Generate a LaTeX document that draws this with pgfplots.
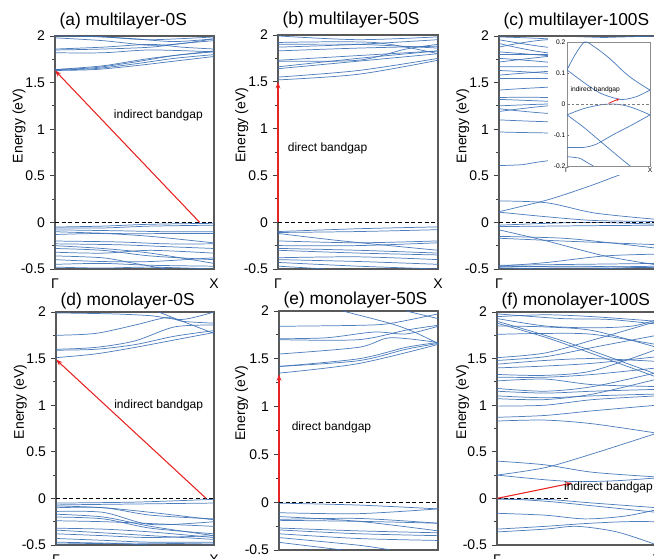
\documentclass[border=0pt]{standalone}
\usepackage{pgfplots}
\pgfplotsset{compat=1.18}
\usepackage{fontspec}
\setmainfont{Liberation Sans}
\usetikzlibrary{arrows.meta}
\definecolor{bandc}{RGB}{60,112,182}
\definecolor{arr}{RGB}{232,35,35}
\newcommand{\B}[1]{\addplot[band] coordinates {#1};}
\tikzset{lbl/.style={font=\fontsize{9}{10}\selectfont}}
\pgfplotsset{
  band/.style={no marks, smooth, line width=0.55pt, color=bandc, opacity=0.9},
  fermi/.style={no marks, black, dashed, dash pattern=on 3pt off 2pt, line width=0.7pt},
  redarrow/.style={no marks, arr, line width=0.8pt, -{Stealth[length=5pt,width=3.5pt]}, clip=false},
  panel/.style={scale only axis, anchor=south west,
    xmin=0, xmax=1, ymin=-0.5, ymax=2,
    xtick={0,1}, xticklabels={Γ,X},
    ytick={-0.5,0,0.5,1,1.5,2}, minor ytick={-0.25,0.25,0.75,1.25,1.75},
    ytick pos=left, xtick pos=bottom,
    tick align=outside, major tick length=4pt, minor tick length=2.3pt,
    x tick style={draw=none},
    tick style={black!75, line width=0.6pt},
    axis line style={black!65, line width=0.8pt},
    ticklabel style={font=\fontsize{10.5}{12}\selectfont},
    /pgf/number format/assume math mode=true,
    ylabel={Energy (eV)},
    ylabel style={font=\fontsize{10.5}{12}\selectfont, at={(axis description cs:-0.226,0.615)}, anchor=center},
    title style={at={(axis description cs:0,1)}, anchor=base west, yshift=1.5pt, font=\fontsize{13}{15}\selectfont},
    clip mode=individual,
  },
}
\begin{document}
\begin{tikzpicture}
\useasboundingbox (0,0) rectangle (490.5pt,419.25pt);
\clip (0,0) rectangle (490.5pt,419.25pt);

% ---------------- (a) ----------------
\begin{axis}[panel, at={(41.25pt,217.5pt)}, width=119.25pt, height=174.75pt, title={(a) multilayer-0S}]
\B{(0,1.63)(0.25,1.64)(0.5,1.68)(0.75,1.73)(1,1.78)}
\B{(0,1.635)(0.25,1.65)(0.5,1.70)(0.75,1.76)(1,1.80)}
\B{(0,1.64)(0.25,1.66)(0.5,1.72)(0.75,1.79)(1,1.83)}
\B{(0,1.64)(0.3,1.68)(0.6,1.76)(1,1.84)}
\B{(0,1.82)(0.3,1.82)(0.6,1.85)(1,1.83)}
\B{(0,1.85)(0.3,1.86)(0.6,1.88)(0.8,1.92)(1,1.95)}
\B{(0,1.86)(0.3,1.88)(0.6,1.91)(0.8,1.88)(1,1.86)}
\B{(0,1.98)(0.3,1.95)(0.6,1.90)(0.8,1.92)(1,1.97)}
\B{(0,2.0)(0.3,1.99)(0.6,1.96)(1,1.99)}
\B{(0.2,2.0)(0.5,1.97)(0.75,1.94)(1,1.97)}
\B{(0,-0.05)(0.3,-0.04)(0.6,-0.02)(1,-0.01)}
\B{(0,-0.06)(0.3,-0.06)(0.6,-0.04)(1,-0.03)}
\B{(0,-0.08)(0.4,-0.09)(0.7,-0.1)(1,-0.1)}
\B{(0,-0.1)(0.4,-0.12)(0.7,-0.12)(1,-0.12)}
\B{(0,-0.13)(0.3,-0.12)(0.6,-0.15)(1,-0.22)}
\B{(0,-0.2)(0.4,-0.21)(0.7,-0.23)(1,-0.23)}
\B{(0,-0.23)(0.4,-0.24)(0.7,-0.26)(1,-0.28)}
\B{(0,-0.25)(0.3,-0.28)(0.6,-0.33)(1,-0.44)}
\B{(0,-0.28)(0.3,-0.3)(0.6,-0.36)(1,-0.40)}
\B{(0,-0.32)(0.3,-0.33)(0.6,-0.3)(1,-0.33)}
\B{(0,-0.36)(0.3,-0.38)(0.5,-0.44)(0.7,-0.5)}
\B{(0,-0.4)(0.3,-0.42)(0.6,-0.42)(1,-0.38)}
\B{(0,-0.45)(0.3,-0.44)(0.6,-0.46)(1,-0.47)}
\B{(0,-0.48)(0.3,-0.49)(0.6,-0.48)(1,-0.5)}
\addplot[fermi] coordinates {(0,0)(1,0)};
\addplot[redarrow] coordinates {(0.91,0)(0,1.63)};
\node[lbl] at (axis cs:0.65,1.15) {indirect bandgap};
\end{axis}

% ---------------- (b) ----------------
\begin{axis}[panel, at={(208.5pt,217.5pt)}, width=120pt, height=175.5pt, title={(b) multilayer-50S}]
\B{(0,1.52)(0.5,1.58)(1,1.73)}
\B{(0,1.55)(0.5,1.62)(1,1.75)}
\B{(0,1.64)(0.5,1.72)(1,1.80)}
\B{(0,1.66)(0.5,1.75)(1,1.83)}
\B{(0,1.72)(0.5,1.73)(0.8,1.85)(1,1.90)}
\B{(0,1.73)(0.6,1.79)(1,1.83)}
\B{(0,1.83)(0.5,1.86)(1,1.88)}
\B{(0,1.87)(0.5,1.90)(1,1.95)}
\B{(0,1.90)(0.5,1.90)(1,1.86)}
\B{(0,1.92)(0.6,1.92)(1,1.80)}
\B{(0,1.99)(0.5,1.95)(1,1.98)}
\B{(0,-0.10)(0.5,-0.07)(1,-0.05)}
\B{(0,-0.11)(0.5,-0.10)(1,-0.08)}
\B{(0,-0.12)(0.4,-0.20)(1,-0.30)}
\B{(0,-0.20)(0.5,-0.22)(1,-0.20)}
\B{(0,-0.25)(0.5,-0.25)(1,-0.22)}
\B{(0,-0.28)(0.5,-0.30)(1,-0.33)}
\B{(0,-0.30)(0.5,-0.33)(1,-0.35)}
\B{(0,-0.38)(0.5,-0.37)(1,-0.40)}
\B{(0,-0.40)(0.5,-0.42)(1,-0.45)}
\B{(0,-0.43)(0.5,-0.47)(1,-0.50)}
\B{(0,-0.47)(0.3,-0.5)}
\addplot[fermi] coordinates {(0,0)(1,0)};
\addplot[redarrow] coordinates {(0,0)(0,1.5)};
\node[lbl] at (axis cs:0.31,0.79) {direct bandgap};
\end{axis}

% ---------------- (c) ----------------
\begin{axis}[panel, at={(374.25pt,217.5pt)}, width=120pt, height=174.75pt, title={(c) multilayer-100S}]
\B{(0,1.99)(0.3,1.97)(1,1.90)}
\B{(0,1.96)(0.3,1.88)(1,1.75)}
\B{(0,1.92)(0.3,1.82)(1,1.70)}
\B{(0,1.88)(0.3,1.96)(1,2.0)}
\B{(0,1.83)(0.3,1.79)(1,1.70)}
\B{(0,1.80)(0.3,1.80)(1,1.80)}
\B{(0,1.76)(0.3,1.72)(1,1.60)}
\B{(0,1.72)(0.3,1.78)(1,1.90)}
\B{(0,1.67)(0.3,1.67)(1,1.65)}
\B{(0,1.63)(0.3,1.60)(1,1.50)}
\B{(0,1.58)(0.3,1.62)(1,1.70)}
\B{(0,1.55)(0.3,1.55)(1,1.55)}
\B{(0,1.42)(0.3,1.45)(1,1.50)}
\B{(0,1.34)(0.3,1.34)(1,1.30)}
\B{(0,1.32)(0.3,1.30)(1,1.25)}
\B{(0,1.25)(0.3,1.27)(1,1.30)}
\B{(0,1.22)(0.3,1.17)(1,1.10)}
\B{(0,1.19)(0.3,1.25)(1,1.35)}
\B{(0,1.10)(0.3,1.08)(1,1.05)}
\B{(0,0.97)(0.3,0.96)(1,0.95)}
\B{(0,0.61)(0.15,0.62)(0.3,0.66)(1,0.80)}
\B{(0,0.115)(0.3,0.24)(0.55,0.38)(0.77,0.52)(1,0.66)}
\B{(0,0.23)(0.3,0.21)(0.6,0.10)(1,0.03)}
\B{(0,0.11)(0.3,0.06)(0.6,0.02)(1,0.01)}
\B{(0,-0.03)(0.3,-0.01)(0.6,0.0)(1,-0.02)}
\B{(0,-0.045)(0.3,-0.04)(0.6,-0.035)(1,-0.03)}
\B{(0,-0.08)(0.3,-0.20)(0.66,-0.36)(1,-0.46)}
\B{(0,-0.15)(0.4,-0.17)(0.7,-0.22)(1,-0.28)}
\B{(0,-0.17)(0.4,-0.20)(0.7,-0.22)(1,-0.24)}
\B{(0,-0.47)(0.3,-0.43)(0.66,-0.36)(1,-0.34)}
\B{(0,-0.46)(0.5,-0.45)(1,-0.44)}
\B{(0,-0.47)(0.5,-0.48)(1,-0.47)}
\B{(0,-0.48)(0.5,-0.47)(1,-0.49)}
\B{(0,-0.49)(0.5,-0.5)(1,-0.48)}
\addplot[fermi] coordinates {(0,0)(1,0)};
\end{axis}
\fill[white] (411pt,288pt) rectangle (491pt,391pt);
% inset
\begin{axis}[scale only axis, anchor=south west, at={(425.25pt,294.75pt)}, width=62.25pt, height=93pt,
  xmin=0, xmax=1, ymin=-0.2, ymax=0.2,
  xtick={0,1}, xticklabels={Γ,X}, ytick={-0.2,-0.1,0,0.1,0.2},
  ytick pos=left, xtick pos=bottom, tick align=inside, major tick length=1.5pt,
  x tick style={draw=none}, tick style={black!60, line width=0.4pt},
  axis line style={black!45, line width=0.6pt},
  ticklabel style={font=\fontsize{5}{6}\selectfont, inner sep=1pt},
  /pgf/number format/assume math mode=true,
  clip mode=individual]
\B{(0,0.11)(0.1,0.16)(0.21,0.2)(0.3,0.19)(0.5,0.15)(0.7,0.1)(0.85,0.07)(1,0.045)}
\B{(0,0.11)(0.2,0.07)(0.4,0.035)(0.6,0.017)(0.7,0.015)(0.85,0.025)(1,0.045)}
\B{(0,-0.035)(0.2,-0.015)(0.4,-0.003)(0.55,0)(0.7,-0.005)(0.85,-0.018)(1,-0.035)}
\B{(0,-0.035)(0.2,-0.075)(0.4,-0.12)(0.6,-0.165)(0.76,-0.2)}
\B{(0,-0.14)(0.2,-0.14)(0.35,-0.13)(0.55,-0.1)(0.8,-0.065)(1,-0.035)}
\B{(0,-0.17)(0.15,-0.175)(0.25,-0.19)(0.32,-0.2)}
\addplot[no marks, gray, dashed, dash pattern=on 2pt off 1.5pt, line width=0.5pt] coordinates {(0,0)(1,0)};
\addplot[no marks, arr, line width=0.6pt, -{Stealth[length=2.5pt,width=2pt]}] coordinates {(0.5,0.002)(0.63,0.017)};
\node[font=\fontsize{5}{6}\selectfont, anchor=west, inner sep=0pt] at (axis cs:0.04,0.046) {indirect bandgap};
\end{axis}

% ---------------- (d) ----------------
\begin{axis}[panel, at={(42pt,10.5pt)}, width=118.5pt, height=174.75pt, title={(d) monolayer-0S}, title style={yshift=-3pt}]
\B{(0,1.51)(0.25,1.55)(0.5,1.62)(0.75,1.70)(1,1.78)}
\B{(0,1.59)(0.25,1.60)(0.5,1.65)(0.75,1.74)(1,1.80)}
\B{(0,1.60)(0.25,1.62)(0.5,1.69)(0.75,1.84)(1,1.86)}
\B{(0,1.75)(0.25,1.77)(0.5,1.86)(0.7,1.94)(0.8,1.90)(1,1.88)}
\B{(0,1.99)(0.35,1.98)(0.6,1.96)(0.8,1.92)(1,2.0)}
\B{(0.65,2.0)(0.8,1.9)(1,1.77)}
\B{(0,-0.05)(0.5,-0.04)(1,-0.01)}
\B{(0,-0.07)(0.5,-0.06)(1,-0.05)}
\B{(0,-0.08)(0.3,-0.10)(0.6,-0.15)(1,-0.23)}
\B{(0,-0.10)(0.3,-0.10)(0.6,-0.18)(1,-0.22)}
\B{(0,-0.14)(0.3,-0.15)(0.6,-0.28)(1,-0.25)}
\B{(0,-0.17)(0.3,-0.20)(0.6,-0.30)(1,-0.40)}
\B{(0,-0.20)(0.3,-0.22)(0.6,-0.32)(1,-0.38)}
\B{(0,-0.24)(0.3,-0.25)(0.6,-0.27)(1,-0.30)}
\B{(0,-0.32)(0.3,-0.33)(0.6,-0.36)(1,-0.42)}
\B{(0,-0.34)(0.3,-0.37)(0.6,-0.40)(1,-0.44)}
\B{(0,-0.38)(0.3,-0.40)(0.6,-0.42)(1,-0.40)}
\B{(0,-0.43)(0.3,-0.45)(0.6,-0.47)(1,-0.47)}
\B{(0,-0.47)(0.3,-0.48)(0.6,-0.50)}
\B{(0,-0.49)(0.5,-0.48)(1,-0.49)}
\addplot[fermi] coordinates {(0,0)(1,0)};
\addplot[redarrow] coordinates {(0.95,0)(0,1.49)};
\node[lbl] at (axis cs:0.65,1.0) {indirect bandgap};
\end{axis}

% ---------------- (e) ----------------
\begin{axis}[panel, at={(209.25pt,6.75pt)}, width=119.25pt, height=179.25pt, title={(e) monolayer-50S}, title style={yshift=-3pt}, ylabel style={at={(axis description cs:-0.236,0.615)}}]
\B{(0,1.35)(0.5,1.45)(1,1.65)}
\B{(0,1.42)(0.5,1.48)(0.8,1.60)(1,1.66)}
\B{(0,1.42)(0.5,1.50)(0.8,1.62)(1,1.67)}
\B{(0,1.55)(0.5,1.62)(0.7,1.72)(1,1.67)}
\B{(0,1.71)(0.3,1.72)(0.6,1.78)(0.8,1.76)(1,1.84)}
\B{(0,1.70)(0.5,1.70)(0.8,1.80)(1,1.85)}
\B{(0,1.84)(0.5,1.85)(0.7,1.87)(1,1.97)}
\B{(0.4,2.0)(0.7,1.87)(0.85,1.78)(1,1.66)}
\B{(0.8,2.0)(1,1.92)}
\B{(0,-0.01)(0.5,-0.03)(1,-0.07)}
\B{(0,-0.11)(0.5,-0.12)(1,-0.07)}
\B{(0,-0.15)(0.5,-0.20)(1,-0.30)}
\B{(0,-0.18)(0.5,-0.17)(1,-0.22)}
\B{(0,-0.19)(0.5,-0.20)(1,-0.22)}
\B{(0,-0.27)(0.5,-0.30)(1,-0.32)}
\B{(0,-0.29)(0.5,-0.33)(1,-0.35)}
\B{(0,-0.33)(0.5,-0.38)(1,-0.40)}
\B{(0,-0.37)(0.5,-0.45)(0.7,-0.5)}
\B{(0,-0.42)(0.4,-0.5)}
\addplot[fermi] coordinates {(0,0)(1,0)};
\addplot[redarrow] coordinates {(0,0)(0,1.34)};
\node[lbl] at (axis cs:0.33,0.78) {direct bandgap};
\end{axis}

% ---------------- (f) ----------------
\begin{axis}[panel, at={(372.75pt,10.5pt)}, width=120pt, height=174.75pt, title={(f) monolayer-100S}, title style={yshift=-3pt}, ylabel style={at={(axis description cs:-0.215,0.615)}}]
\B{(0,1.95)(0.3,1.97)(0.6,1.95)(1,1.90)}
\B{(0,1.98)(0.4,1.93)(0.7,1.92)(1,1.87)}
\B{(0,1.93)(0.3,1.85)(0.6,1.83)(0.85,1.85)(1,1.92)}
\B{(0,1.90)(0.3,1.75)(0.6,1.58)(1,1.33)}
\B{(0,1.88)(0.3,1.73)(0.6,1.55)(1,1.30)}
\B{(0,1.85)(0.3,1.84)(0.6,1.80)(1,1.62)}
\B{(0,1.76)(0.3,1.77)(0.6,1.76)(1,1.65)}
\B{(0,1.51)(0.3,1.56)(0.6,1.70)(1,1.90)}
\B{(0,1.48)(0.3,1.52)(0.6,1.62)(1,1.75)}
\B{(0,1.44)(0.3,1.48)(0.6,1.50)(1,1.47)}
\B{(0,1.40)(0.3,1.42)(0.6,1.45)(1,1.52)}
\B{(0,1.33)(0.3,1.32)(0.6,1.37)(1,1.60)}
\B{(0,1.30)(0.3,1.30)(0.6,1.33)(1,1.40)}
\B{(0,1.26)(0.3,1.28)(0.6,1.22)(1,1.20)}
\B{(0,1.18)(0.3,1.15)(0.6,1.20)(1,1.35)}
\B{(0,1.15)(0.3,1.13)(0.6,1.15)(1,1.17)}
\B{(0,1.10)(0.3,1.08)(0.6,1.10)(1,1.12)}
\B{(0,1.07)(0.3,1.06)(0.6,1.12)(1,1.28)}
\B{(0,0.99)(0.3,1.00)(0.6,1.06)(1,1.10)}
\B{(0,0.87)(0.3,0.89)(0.6,0.94)(1,1.00)}
\B{(0,0.83)(0.3,0.84)(0.6,0.80)(1,0.70)}
\B{(0,0.40)(0.3,0.36)(0.6,0.28)(1,0.23)}
\B{(0,0.25)(0.3,0.33)(0.6,0.48)(1,0.70)}
\B{(0,0.25)(0.3,0.20)(0.5,0.18)(0.75,0.19)(1,0.22)}
\B{(0,0)(0.3,-0.03)(0.6,-0.08)(1,-0.15)}
\B{(0,-0.01)(0.3,-0.01)(0.6,-0.05)(1,-0.10)}
\B{(0,-0.16)(0.3,-0.18)(0.55,-0.22)(0.8,-0.19)(1,-0.12)}
\B{(0,-0.33)(0.3,-0.30)(0.55,-0.27)(0.8,-0.25)(1,-0.25)}
\B{(0,-0.36)(0.3,-0.33)(0.5,-0.30)(0.75,-0.36)(1,-0.50)}
\addplot[fermi] coordinates {(0,0)(0.45,0)};
\addplot[redarrow] coordinates {(0,0)(0.47,0.165)};
\node[lbl, anchor=west] at (axis cs:0.39,0.12) {indirect bandgap};
\end{axis}
\end{tikzpicture}
\end{document}
